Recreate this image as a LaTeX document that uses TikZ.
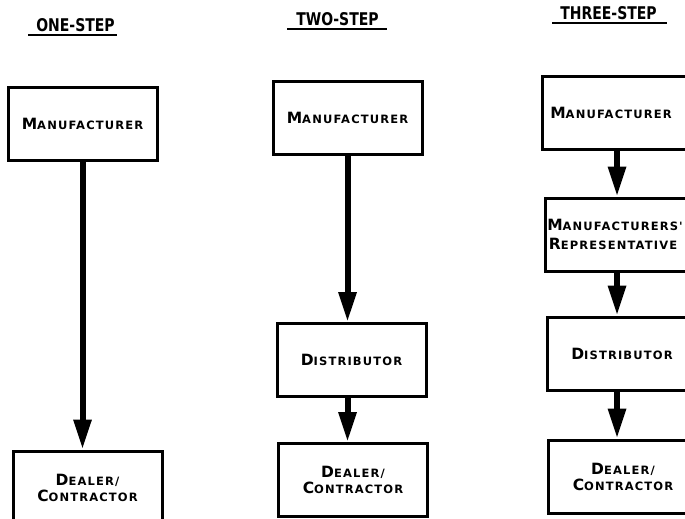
\documentclass[tikz,border=0pt]{standalone}
\usepackage{fontspec}
\usetikzlibrary{arrows.meta}

\newfontfamily\headfont[FakeStretch=0.8]{DejaVu Sans Bold}
\newfontfamily\boxfont[LetterSpace=10]{DejaVu Sans Bold}
\newcommand{\initcap}[2]{{\fontsize{15.5}{15}\selectfont #1}#2}

\tikzset{
  firm/.style={draw, line width=3pt, minimum width=149pt, minimum height=73pt,
    align=center, inner sep=0pt, font=\boxfont\fontsize{11.5}{16}\selectfont},
  flow/.style={line width=6pt, -{Triangle[length=30pt,width=17pt]}},
  heading/.style={inner sep=0pt, font=\headfont\fontsize{17.5}{18}\selectfont},
  underline/.style={line width=1.6pt}
}

\begin{document}
\begin{tikzpicture}[x=1pt, y=-1pt]
        \useasboundingbox (0,0) rectangle (685,519);
        \clip (0,0) rectangle (685,519);

        % one-step
        \node[heading] (h1) at (75.5,25) {ONE-STEP};
        \draw[underline] ([shift={(-8,3)}]h1.south west) -- ([shift={(2,3)}]h1.south east);
        \node[firm] (m1) at (82.5,123.5) {\initcap{M}{ANUFACTURER}};
        \node[firm] (d1) at (87.5,487.5) {\initcap{D}{EALER/}\\\initcap{C}{ONTRACTOR}};
        \draw[flow] (m1.south) -- (m1.south |- d1.north);

        % two-step
        \node[heading] (h2) at (337.5,19) {TWO-STEP};
        \draw[underline] ([shift={(-9,3)}]h2.south west) -- ([shift={(8,3)}]h2.south east);
        \node[firm] (m2) at (347.5,117.5) {\initcap{M}{ANUFACTURER}};
        \node[firm] (t2) at (351.5,360) {\initcap{D}{ISTRIBUTOR}};
        \node[firm] (d2) at (353,480) {\initcap{D}{EALER/}\\\initcap{C}{ONTRACTOR}};
        \draw[flow] (m2.south) -- (m2.south |- t2.north);
        \draw[flow] (m2 |- t2.south) -- (m2 |- d2.north);

        % three-step
        \node[heading] (h3) at (608.5,13) {THREE-STEP};
        \draw[underline] ([shift={(-8,3)}]h3.south west) -- ([shift={(10,3)}]h3.south east);
        \node[firm] (m3) at (617,112.5) {\initcap{M}{ANUFACTURER}\hspace*{12pt}};
        \node[firm] (r3) at (620,234.5) {\initcap{M}{ANUFACTURERS'}\hspace*{10pt}\\[3pt]\initcap{R}{EPRESENTATIVE}\hspace*{14pt}};
        \node[firm] (t3) at (622,353.5) {\initcap{D}{ISTRIBUTOR}};
        \node[firm] (d3) at (623,476.5) {\initcap{D}{EALER/}\\\initcap{C}{ONTRACTOR}};
        \draw[flow] (m3.south) -- (m3 |- r3.north);
        \draw[flow] (m3 |- r3.south) -- (m3 |- t3.north);
        \draw[flow] (m3 |- t3.south) -- (m3 |- d3.north);
    \end{tikzpicture}
\end{document}
